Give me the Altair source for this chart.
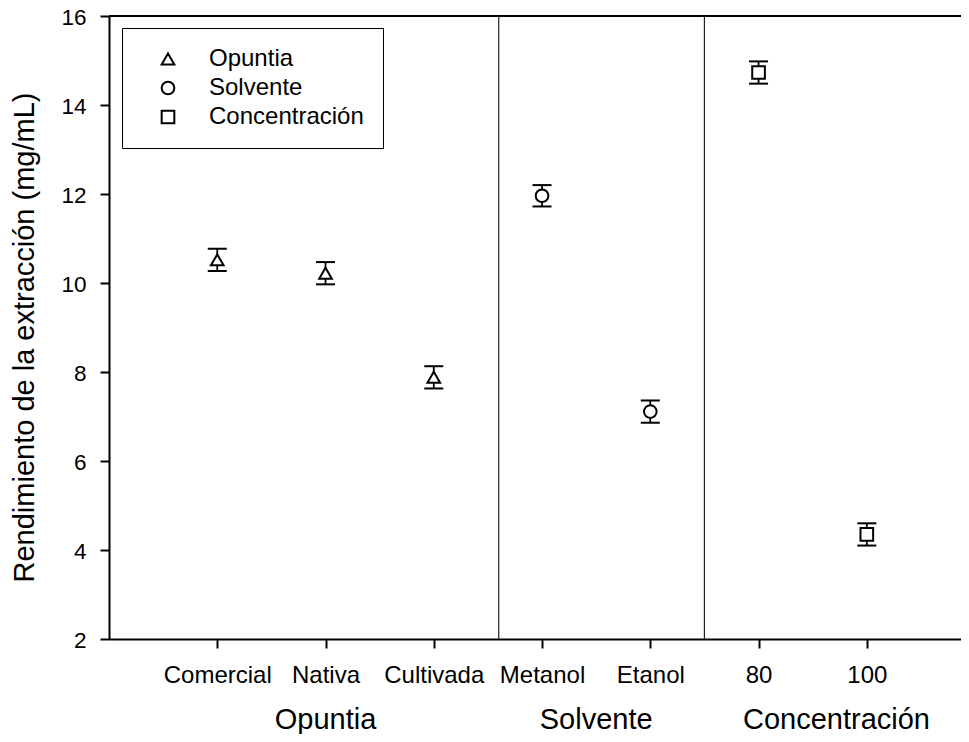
import altair as alt
import pandas as pd

FONT = "Liberation Sans"

categories = ["Comercial", "Nativa", "Cultivada", "Metanol", "Etanol", "80", "100"]
groups = ["Opuntia", "Opuntia", "Opuntia", "Solvente", "Solvente", "Concentración", "Concentración"]
positions = [1, 2, 3, 4, 5, 6, 7]
values = [10.52, 10.22, 7.88, 11.96, 7.11, 14.73, 4.35]
errors = [0.25, 0.25, 0.25, 0.24, 0.25, 0.25, 0.25]

group_names = ["Opuntia", "Solvente", "Concentración"]
group_label_pos = [2.0, 4.5, 6.72]
separators = [3.6, 5.5]
y_ticks = [2, 4, 6, 8, 10, 12, 14, 16]

df = pd.DataFrame({"cat": categories, "group": groups, "pos": positions,
                   "value": values, "err": errors})
df["lo"] = df["value"] - df["err"]
df["hi"] = df["value"] + df["err"]

sep_df = pd.DataFrame({"sep": separators})
grp_df = pd.DataFrame({"gname": group_names, "gpos": group_label_pos})

label_expr = "[" + ",".join("'" + c + "'" for c in categories) + "][datum.value - 1]"

x_scale = alt.Scale(domain=[0, 7.87], nice=False, zero=False)
y_scale = alt.Scale(domain=[2, 16], nice=False, zero=False)

x_axis = alt.Axis(values=positions, labelExpr=label_expr, title=None, grid=False,
                  tickSize=9, tickWidth=2, tickColor="black", domainWidth=2,
                  domainColor="black", labelFont=FONT, labelFontSize=24,
                  labelColor="black", labelPadding=15)
y_axis = alt.Axis(values=y_ticks, grid=False, title="Rendimiento de la extracción (mg/mL)",
                  titleFont=FONT, titleFontSize=29, titleFontWeight="normal",
                  titleColor="black", titleX=-76, titleY=321, titleAngle=270,
                  titleAlign="center", titleBaseline="alphabetic",
                  tickSize=9, tickWidth=2, tickColor="black", domainWidth=2,
                  domainColor="black", labelFont=FONT, labelFontSize=22.5,
                  labelBaseline="alphabetic", labelOffset=8.6,
                  labelColor="black", labelPadding=14)


def X(field):
    return alt.X(field, type="quantitative", scale=x_scale, axis=x_axis)


def Y(field):
    return alt.Y(field, type="quantitative", scale=y_scale, axis=y_axis)


seps = alt.Chart(sep_df).mark_rule(color="#222222", strokeWidth=1.2).encode(x=X("sep"))

top_line = alt.Chart(df).mark_rule(color="black", strokeWidth=2).encode(y=alt.datum(16))

stems = alt.Chart(df).mark_rule(color="black", strokeWidth=1.8).encode(
    x=X("pos"), y=Y("lo"), y2="hi")

cap_hi = alt.Chart(df).mark_rule(color="black", strokeWidth=2, xOffset=-9.5, x2Offset=9.5).encode(
    x=X("pos"), x2="pos", y=Y("hi"))
cap_lo = alt.Chart(df).mark_rule(color="black", strokeWidth=2, xOffset=-9.5, x2Offset=9.5).encode(
    x=X("pos"), x2="pos", y=Y("lo"))

points = alt.Chart(df).mark_point(filled=False, fill="white", fillOpacity=1,
                                  color="black", strokeWidth=2, size=160).encode(
    x=X("pos"), y=Y("value"),
    shape=alt.Shape("group:N",
                    scale=alt.Scale(domain=group_names,
                                    range=["triangle-up", "circle", "square"]),
                    legend=alt.Legend(title=None, orient="none", legendX=13, legendY=12,
                                      padding=19, symbolOffset=15, labelOffset=29,
                                      labelFont=FONT, labelFontSize=24, labelColor="black",
                                      symbolSize=160, symbolStrokeWidth=2,
                                      strokeColor="black", fillColor="white",
                                      rowPadding=5)))

grp_labels = alt.Chart(grp_df).mark_text(font=FONT, fontSize=29, color="black",
                                         baseline="alphabetic", align="center").encode(
    x=X("gpos"), y=alt.value(712.5), text="gname:N")

chart = alt.layer(seps, top_line, stems, cap_hi, cap_lo, points, grp_labels).properties(
    width=852, height=623,
    autosize=alt.AutoSizeParams(type="none"),
    padding={"left": 101, "top": 8, "right": 0, "bottom": 95},
).configure_view(stroke=None).configure_legend(strokeWidth=2).configure(background="white")

chart.save("out.html", embed_options={"renderer": "svg", "actions": False})
